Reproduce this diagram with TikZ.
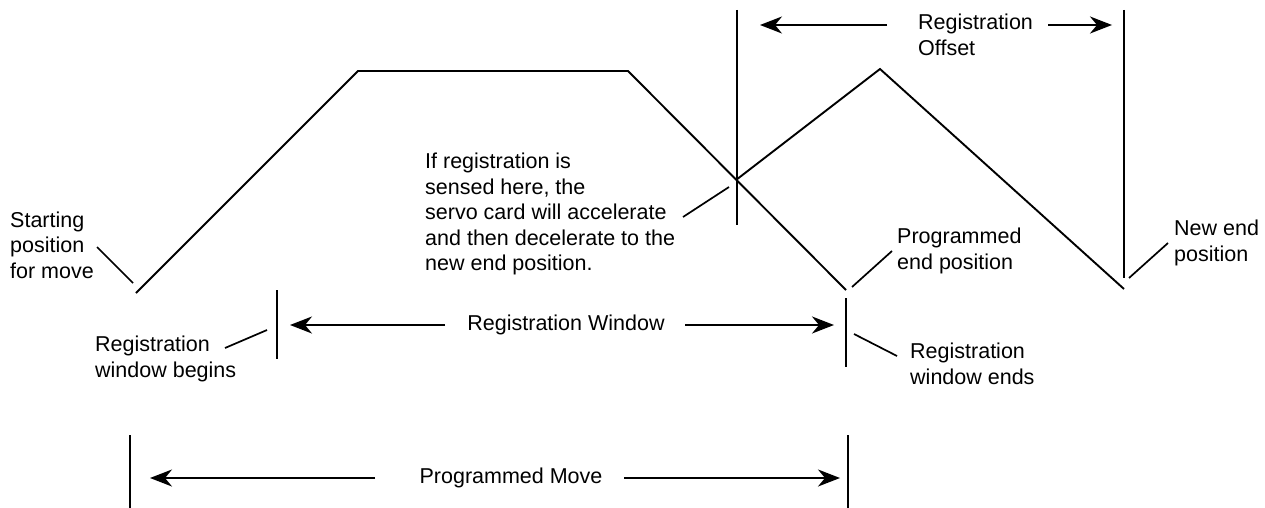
\documentclass[tikz,border=0pt]{standalone}
\usepackage{fontspec}
\setmainfont{Liberation Sans}
\usetikzlibrary{arrows.meta}
\begin{document}
\begin{tikzpicture}[x=1pt,y=-1pt,
  ln/.style={line width=1.9pt},
  thin/.style={line width=1.7pt},
  arr/.style={line width=1.9pt,-{Stealth[length=22pt,width=17pt,inset=7pt]}},
  lbl/.style={inner sep=0pt,align=left,font=\fontsize{21.5}{25.5}\selectfont},
  ctr/.style={inner sep=0pt,font=\fontsize{21.5}{25.5}\selectfont}]
\useasboundingbox (0,0) rectangle (1265,508);
% profile
\coordinate (s) at (136,293);
\coordinate (a) at (358,71);
\coordinate (b) at (628,71);
\coordinate (pe) at (846,290);
\coordinate (x) at (736,180);
\coordinate (pk) at (880,69);
\coordinate (ne) at (1124,289);
\draw[ln] (s) -- (a) -- (b) -- (pe);
\draw[ln] (x) -- (pk) -- (ne);
% verticals
\coordinate (v1t) at (737,10); \coordinate (v1b) at (737,225);
\coordinate (v2t) at (1124,10); \coordinate (v2b) at (1124,278);
\coordinate (v3t) at (277,290); \coordinate (v3b) at (277,359);
\coordinate (v4t) at (846,298); \coordinate (v4b) at (846,367);
\coordinate (v5t) at (130,435); \coordinate (v5b) at (130,508);
\coordinate (v6t) at (848,435); \coordinate (v6b) at (848,508);
\foreach \t/\b in {v1t/v1b,v2t/v2b,v3t/v3b,v4t/v4b,v5t/v5b,v6t/v6b}
  \draw[ln] (\t) -- (\b);
% labels
\node[lbl,anchor=west] (ro) at (918,35) {Registration\\Offset};
\node[lbl,anchor=west] (sp) at (10,245) {Starting\\position\\for move};
\node[lbl,anchor=west] (rwb) at (95,359) {Registration\\window begins};
\node[lbl,anchor=west] (ifr) at (425,214) {If registration is\\sensed here, the\\servo card will accelerate\\and then decelerate to the\\new end position.};
\node[lbl,anchor=west] (pep) at (897,251) {Programmed\\end position};
\node[lbl,anchor=west] (nep) at (1174,243) {New end\\position};
\node[lbl,anchor=west] (rwe) at (910,364) {Registration\\window ends};
\node[ctr] (rw) at (566,325) {Registration Window};
\node[ctr] (pm) at (511,478) {Programmed Move};
% leaders
\coordinate (l1a) at (97,247); \coordinate (l1b) at (133,283);
\coordinate (l2a) at (225,348); \coordinate (l2b) at (267,330);
\coordinate (l3a) at (683,217); \coordinate (l3b) at (729,187);
\coordinate (l4a) at (852,287); \coordinate (l4b) at (892,251);
\coordinate (l5a) at (1129,278); \coordinate (l5b) at (1168,243);
\coordinate (l6a) at (854,334); \coordinate (l6b) at (897,356);
\foreach \p/\q in {l1a/l1b,l2a/l2b,l3a/l3b,l4a/l4b,l5a/l5b,l6a/l6b}
  \draw[thin] (\p) -- (\q);
% dimension arrows
\coordinate (o1) at (887,25); \coordinate (o1t) at (760,25);
\coordinate (o2) at (1048,25); \coordinate (o2t) at (1112,25);
\coordinate (w1) at (445,325); \coordinate (w1t) at (290,325);
\coordinate (w2) at (685,325); \coordinate (w2t) at (834,325);
\coordinate (m1) at (375,478); \coordinate (m1t) at (150,478);
\coordinate (m2) at (624,478); \coordinate (m2t) at (840,478);
\draw[arr] (o1) -- (o1t);
\draw[arr] (o2) -- (o2t);
\draw[arr] (w1) -- (w1t);
\draw[arr] (w2) -- (w2t);
\draw[arr] (m1) -- (m1t);
\draw[arr] (m2) -- (m2t);
\end{tikzpicture}
\end{document}
